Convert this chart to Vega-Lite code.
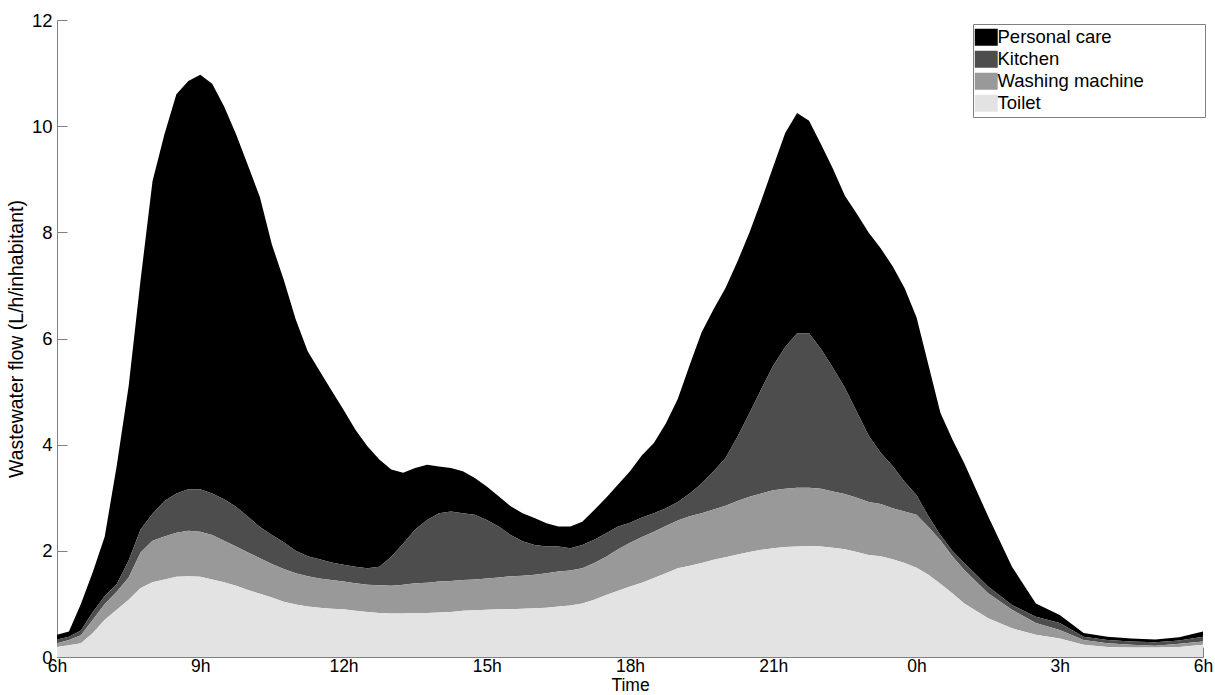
{
  "$schema": "https://vega.github.io/schema/vega-lite/v6.json",
  "width": 1146,
  "height": 637,
  "autosize": {"type": "none"},
  "padding": {"left": 57, "top": 20, "right": 12, "bottom": 38},
  "background": "white",
  "config": {"view": {"stroke": null}, "font": "Liberation Sans"},
  "data": {"values": [
    {"t":0,"Toilet":0.19,"Washing machine":0.07,"Kitchen":0.07,"Personal care":0.09},
    {"t":0.25,"Toilet":0.22,"Washing machine":0.10,"Kitchen":0.06,"Personal care":0.10},
    {"t":0.5,"Toilet":0.26,"Washing machine":0.15,"Kitchen":0.09,"Personal care":0.50},
    {"t":0.75,"Toilet":0.45,"Washing machine":0.25,"Kitchen":0.15,"Personal care":0.75},
    {"t":1,"Toilet":0.70,"Washing machine":0.30,"Kitchen":0.15,"Personal care":1.12},
    {"t":1.25,"Toilet":0.89,"Washing machine":0.34,"Kitchen":0.14,"Personal care":2.23},
    {"t":1.5,"Toilet":1.08,"Washing machine":0.42,"Kitchen":0.32,"Personal care":3.28},
    {"t":1.75,"Toilet":1.30,"Washing machine":0.67,"Kitchen":0.43,"Personal care":4.70},
    {"t":2,"Toilet":1.41,"Washing machine":0.78,"Kitchen":0.51,"Personal care":6.26},
    {"t":2.25,"Toilet":1.46,"Washing machine":0.81,"Kitchen":0.67,"Personal care":6.91},
    {"t":2.5,"Toilet":1.51,"Washing machine":0.83,"Kitchen":0.74,"Personal care":7.52},
    {"t":2.75,"Toilet":1.52,"Washing machine":0.86,"Kitchen":0.78,"Personal care":7.69},
    {"t":3,"Toilet":1.51,"Washing machine":0.85,"Kitchen":0.80,"Personal care":7.81},
    {"t":3.25,"Toilet":1.46,"Washing machine":0.84,"Kitchen":0.78,"Personal care":7.72},
    {"t":3.5,"Toilet":1.41,"Washing machine":0.78,"Kitchen":0.78,"Personal care":7.40},
    {"t":3.75,"Toilet":1.34,"Washing machine":0.74,"Kitchen":0.75,"Personal care":7.02},
    {"t":4,"Toilet":1.26,"Washing machine":0.71,"Kitchen":0.67,"Personal care":6.62},
    {"t":4.25,"Toilet":1.19,"Washing machine":0.67,"Kitchen":0.59,"Personal care":6.21},
    {"t":4.5,"Toilet":1.12,"Washing machine":0.63,"Kitchen":0.55,"Personal care":5.47},
    {"t":4.75,"Toilet":1.04,"Washing machine":0.62,"Kitchen":0.50,"Personal care":4.94},
    {"t":5,"Toilet":0.99,"Washing machine":0.59,"Kitchen":0.42,"Personal care":4.36},
    {"t":5.25,"Toilet":0.95,"Washing machine":0.57,"Kitchen":0.38,"Personal care":3.86},
    {"t":5.5,"Toilet":0.93,"Washing machine":0.55,"Kitchen":0.36,"Personal care":3.55},
    {"t":5.75,"Toilet":0.91,"Washing machine":0.54,"Kitchen":0.33,"Personal care":3.24},
    {"t":6,"Toilet":0.90,"Washing machine":0.52,"Kitchen":0.32,"Personal care":2.92},
    {"t":6.25,"Toilet":0.87,"Washing machine":0.52,"Kitchen":0.31,"Personal care":2.58},
    {"t":6.5,"Toilet":0.85,"Washing machine":0.51,"Kitchen":0.31,"Personal care":2.30},
    {"t":6.75,"Toilet":0.83,"Washing machine":0.52,"Kitchen":0.35,"Personal care":2.02},
    {"t":7,"Toilet":0.82,"Washing machine":0.52,"Kitchen":0.55,"Personal care":1.64},
    {"t":7.25,"Toilet":0.82,"Washing machine":0.54,"Kitchen":0.78,"Personal care":1.33},
    {"t":7.5,"Toilet":0.83,"Washing machine":0.56,"Kitchen":1.01,"Personal care":1.16},
    {"t":7.75,"Toilet":0.83,"Washing machine":0.57,"Kitchen":1.18,"Personal care":1.04},
    {"t":8,"Toilet":0.84,"Washing machine":0.58,"Kitchen":1.29,"Personal care":0.88},
    {"t":8.25,"Toilet":0.85,"Washing machine":0.58,"Kitchen":1.31,"Personal care":0.82},
    {"t":8.5,"Toilet":0.87,"Washing machine":0.58,"Kitchen":1.26,"Personal care":0.79},
    {"t":8.75,"Toilet":0.88,"Washing machine":0.58,"Kitchen":1.22,"Personal care":0.69},
    {"t":9,"Toilet":0.89,"Washing machine":0.59,"Kitchen":1.10,"Personal care":0.63},
    {"t":9.25,"Toilet":0.90,"Washing machine":0.60,"Kitchen":0.96,"Personal care":0.57},
    {"t":9.5,"Toilet":0.90,"Washing machine":0.62,"Kitchen":0.78,"Personal care":0.54},
    {"t":9.75,"Toilet":0.91,"Washing machine":0.62,"Kitchen":0.65,"Personal care":0.53},
    {"t":10,"Toilet":0.92,"Washing machine":0.63,"Kitchen":0.56,"Personal care":0.51},
    {"t":10.25,"Toilet":0.93,"Washing machine":0.65,"Kitchen":0.50,"Personal care":0.44},
    {"t":10.5,"Toilet":0.95,"Washing machine":0.66,"Kitchen":0.47,"Personal care":0.38},
    {"t":10.75,"Toilet":0.97,"Washing machine":0.66,"Kitchen":0.42,"Personal care":0.41},
    {"t":11,"Toilet":1.01,"Washing machine":0.66,"Kitchen":0.44,"Personal care":0.44},
    {"t":11.25,"Toilet":1.08,"Washing machine":0.69,"Kitchen":0.44,"Personal care":0.56},
    {"t":11.5,"Toilet":1.17,"Washing machine":0.72,"Kitchen":0.44,"Personal care":0.67},
    {"t":11.75,"Toilet":1.25,"Washing machine":0.78,"Kitchen":0.43,"Personal care":0.79},
    {"t":12,"Toilet":1.33,"Washing machine":0.82,"Kitchen":0.38,"Personal care":0.97},
    {"t":12.25,"Toilet":1.40,"Washing machine":0.86,"Kitchen":0.37,"Personal care":1.17},
    {"t":12.5,"Toilet":1.49,"Washing machine":0.87,"Kitchen":0.35,"Personal care":1.32},
    {"t":12.75,"Toilet":1.58,"Washing machine":0.89,"Kitchen":0.33,"Personal care":1.60},
    {"t":13,"Toilet":1.67,"Washing machine":0.90,"Kitchen":0.35,"Personal care":1.94},
    {"t":13.25,"Toilet":1.72,"Washing machine":0.93,"Kitchen":0.43,"Personal care":2.42},
    {"t":13.5,"Toilet":1.77,"Washing machine":0.94,"Kitchen":0.56,"Personal care":2.85},
    {"t":13.75,"Toilet":1.83,"Washing machine":0.95,"Kitchen":0.72,"Personal care":3.05},
    {"t":14,"Toilet":1.88,"Washing machine":0.97,"Kitchen":0.90,"Personal care":3.20},
    {"t":14.25,"Toilet":1.93,"Washing machine":1.01,"Kitchen":1.21,"Personal care":3.30},
    {"t":14.5,"Toilet":1.98,"Washing machine":1.04,"Kitchen":1.57,"Personal care":3.40},
    {"t":14.75,"Toilet":2.02,"Washing machine":1.06,"Kitchen":1.97,"Personal care":3.55},
    {"t":15,"Toilet":2.05,"Washing machine":1.09,"Kitchen":2.35,"Personal care":3.75},
    {"t":15.25,"Toilet":2.07,"Washing machine":1.10,"Kitchen":2.67,"Personal care":4.03},
    {"t":15.5,"Toilet":2.08,"Washing machine":1.11,"Kitchen":2.91,"Personal care":4.15},
    {"t":15.75,"Toilet":2.09,"Washing machine":1.10,"Kitchen":2.91,"Personal care":4.00},
    {"t":16,"Toilet":2.08,"Washing machine":1.09,"Kitchen":2.63,"Personal care":3.86},
    {"t":16.25,"Toilet":2.06,"Washing machine":1.06,"Kitchen":2.33,"Personal care":3.75},
    {"t":16.5,"Toilet":2.03,"Washing machine":1.04,"Kitchen":2.00,"Personal care":3.62},
    {"t":16.75,"Toilet":1.98,"Washing machine":1.02,"Kitchen":1.62,"Personal care":3.73},
    {"t":17,"Toilet":1.92,"Washing machine":1.00,"Kitchen":1.25,"Personal care":3.82},
    {"t":17.25,"Toilet":1.90,"Washing machine":0.98,"Kitchen":0.97,"Personal care":3.85},
    {"t":17.5,"Toilet":1.84,"Washing machine":0.96,"Kitchen":0.80,"Personal care":3.76},
    {"t":17.75,"Toilet":1.77,"Washing machine":0.97,"Kitchen":0.56,"Personal care":3.65},
    {"t":18,"Toilet":1.68,"Washing machine":1.00,"Kitchen":0.37,"Personal care":3.35},
    {"t":18.25,"Toilet":1.55,"Washing machine":0.90,"Kitchen":0.20,"Personal care":2.85},
    {"t":18.5,"Toilet":1.38,"Washing machine":0.82,"Kitchen":0.10,"Personal care":2.30},
    {"t":18.75,"Toilet":1.20,"Washing machine":0.70,"Kitchen":0.10,"Personal care":2.10},
    {"t":19,"Toilet":1.01,"Washing machine":0.63,"Kitchen":0.13,"Personal care":1.88},
    {"t":19.5,"Toilet":0.73,"Washing machine":0.47,"Kitchen":0.13,"Personal care":1.32},
    {"t":20,"Toilet":0.54,"Washing machine":0.35,"Kitchen":0.09,"Personal care":0.72},
    {"t":20.5,"Toilet":0.42,"Washing machine":0.22,"Kitchen":0.12,"Personal care":0.25},
    {"t":21,"Toilet":0.35,"Washing machine":0.16,"Kitchen":0.13,"Personal care":0.15},
    {"t":21.5,"Toilet":0.23,"Washing machine":0.09,"Kitchen":0.06,"Personal care":0.07},
    {"t":22,"Toilet":0.19,"Washing machine":0.07,"Kitchen":0.06,"Personal care":0.06},
    {"t":22.5,"Toilet":0.18,"Washing machine":0.05,"Kitchen":0.06,"Personal care":0.06},
    {"t":23,"Toilet":0.18,"Washing machine":0.03,"Kitchen":0.07,"Personal care":0.05},
    {"t":23.5,"Toilet":0.19,"Washing machine":0.06,"Kitchen":0.06,"Personal care":0.06},
    {"t":24,"Toilet":0.23,"Washing machine":0.06,"Kitchen":0.09,"Personal care":0.10}
  ]},
  "transform": [
    {"fold": ["Personal care", "Kitchen", "Washing machine", "Toilet"], "as": ["cat", "v"]},
    {"calculate": "indexof(['Toilet','Washing machine','Kitchen','Personal care'], datum.cat)", "as": "ord"}
  ],
  "mark": {"type": "area", "interpolate": "linear"},
  "encoding": {
    "x": {
      "field": "t", "type": "quantitative",
      "scale": {"domain": [0, 24], "nice": false, "zero": false},
      "axis": {
        "values": [0, 3, 6, 9, 12, 15, 18, 21, 24],
        "labelExpr": "((datum.value + 6) % 24) + 'h'",
        "title": "Time", "grid": false,
        "domainColor": "#808080", "tickColor": "#808080", "tickSize": -10,
        "labelPadding": 10.5, "labelFontSize": 17.5, "labelColor": "black", "labelFlush": false,
        "titleFontSize": 17.5, "titleFontWeight": "normal", "titleColor": "black", "titlePadding": 1
      }
    },
    "y": {
      "field": "v", "type": "quantitative", "stack": "zero",
      "scale": {"domain": [0, 12], "nice": false},
      "axis": {
        "values": [0, 2, 4, 6, 8, 10, 12],
        "title": "Wastewater flow (L/h/inhabitant)", "grid": false,
        "domainColor": "#808080", "tickColor": "#808080", "tickSize": -10,
        "labelPadding": 15, "labelFontSize": 18.5, "labelColor": "black", "labelFlush": false,
        "titleFontSize": 19.5, "titleFontWeight": "normal", "titleColor": "black", "titlePadding": 5
      }
    },
    "color": {
      "field": "cat", "type": "nominal",
      "scale": {"domain": ["Personal care", "Kitchen", "Washing machine", "Toilet"], "range": ["#000000", "#4d4d4d", "#999999", "#e3e3e3"]},
      "legend": {
        "orient": "none", "legendX": 916, "legendY": 4, "title": null,
        "strokeColor": "#808080", "fillColor": "white", "padding": 4, "cornerRadius": 0,
        "symbolType": "M-1.35,-1H1.35V1H-1.35Z", "symbolSize": 289, "symbolStrokeWidth": 0, "symbolOpacity": 1,
        "labelFontSize": 18.5, "labelOffset": 2, "rowPadding": 3, "labelLimit": 400, "labelColor": "black",
        "labelExpr": "datum.label + '\u00a0\u00a0\u00a0\u00a0\u00a0\u00a0\u00a0\u00a0\u00a0\u00a0\u00a0\u200b'"
      }
    },
    "order": {"field": "ord", "type": "quantitative", "sort": "ascending"}
  }
}
